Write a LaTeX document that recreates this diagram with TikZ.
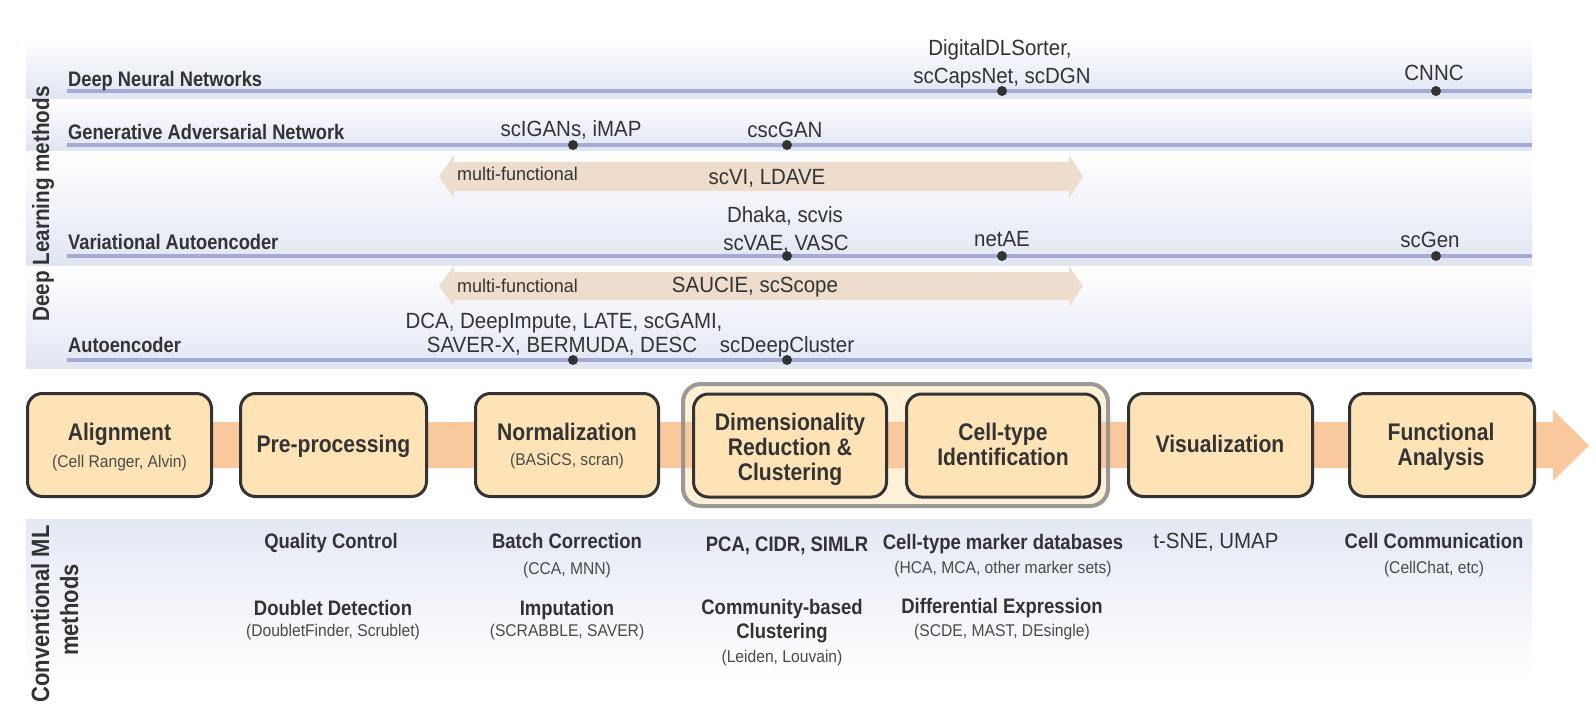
\documentclass[tikz,border=0pt]{standalone}
\usepackage{fontspec}
\setmainfont{Liberation Sans}
\newfontfamily\bcond[FakeStretch=0.88]{Liberation Sans}
\newfontfamily\rowcond[FakeStretch=0.87]{Liberation Sans}
\newfontfamily\rcond[FakeStretch=0.93]{Liberation Sans}
\newfontfamily\mcond[FakeStretch=0.97]{Liberation Sans}
\newfontfamily\scond[FakeStretch=0.92]{Liberation Sans}
\definecolor{txt}{HTML}{333333}
\definecolor{subtxt}{HTML}{4A4A4A}
\definecolor{bandblue}{HTML}{E3E8F4}
\definecolor{stripblue}{HTML}{E1E6F3}
\definecolor{rowline}{HTML}{A6AAD6}
\definecolor{beige}{HTML}{EEDDCC}
\definecolor{peach}{HTML}{F9C89C}
\definecolor{boxfill}{HTML}{FEE3B7}
\definecolor{groupfill}{HTML}{FFF0D8}
\definecolor{groupline}{HTML}{8A8A8A}
\definecolor{boxline}{HTML}{333333}
\begin{document}
\begin{tikzpicture}[x=1pt,y=-1pt,
  rowlab/.style={font=\rowcond\bfseries\fontsize{21}{24}\selectfont, anchor=base west, text=txt, inner sep=0pt},
  meth/.style={font=\rcond\fontsize{22}{24}\selectfont, anchor=base, text=txt, inner sep=0pt},
  mfun/.style={font=\mcond\fontsize{18.5}{22}\selectfont, anchor=base west, text=txt, inner sep=0pt},
  dot/.style={circle, fill=txt, minimum size=10pt, inner sep=0pt},
  stage/.style={draw=boxline, line width=3pt, fill=boxfill, rounded corners=15pt, minimum height=103pt, inner sep=0pt},
  stt/.style={font=\bcond\bfseries\fontsize{24}{25}\selectfont, anchor=base, text=txt, inner sep=0pt},
  subt/.style={font=\scond\fontsize{17}{20}\selectfont, anchor=base, text=subtxt, inner sep=0pt},
  blab/.style={font=\bcond\bfseries\fontsize{21}{24}\selectfont, anchor=base, text=txt, inner sep=0pt},
  vlab/.style={font=\bcond\bfseries\fontsize{23.5}{26}\selectfont, anchor=base, text=txt, inner sep=0pt, rotate=90},
  vlabc/.style={vlab, font=\bcond\bfseries\fontsize{25}{28}\selectfont},
  rline/.style={draw=rowline, line width=3.5pt}
]
\useasboundingbox (0,0) rectangle (1596,704);

% ---------- top band ----------
\shade[top color=white, bottom color=bandblue] (26,37) rectangle (1532,91);
\fill[stripblue] (26,91) rectangle (1532,99);
\shade[top color=white, bottom color=bandblue] (26,99) rectangle (1532,145);
\fill[stripblue] (26,145) rectangle (1532,151);
\shade[top color=white, bottom color=bandblue] (26,151) rectangle (1532,256);
\fill[stripblue] (26,256) rectangle (1532,266);
\shade[top color=white, bottom color=bandblue] (26,266) rectangle (1532,360);
\fill[stripblue] (26,360) rectangle (1532,369);

\coordinate (l1a) at (67,91);  \coordinate (l1b) at (1532,91);
\coordinate (l2a) at (67,145); \coordinate (l2b) at (1532,145);
\coordinate (l3a) at (67,256); \coordinate (l3b) at (1532,256);
\coordinate (l4a) at (67,360); \coordinate (l4b) at (1532,360);
\draw[rline] (l1a) -- (l1b);
\draw[rline] (l2a) -- (l2b);
\draw[rline] (l3a) -- (l3b);
\draw[rline] (l4a) -- (l4b);

% multi-functional arrows
\fill[beige] (439,176.5) -- (454,155) -- (454,162) -- (1069,162) -- (1069,155) -- (1083,176.5)
  -- (1069,198) -- (1069,191) -- (454,191) -- (454,198) -- cycle;
\fill[beige] (439,286) -- (454,266) -- (454,272) -- (1069,272) -- (1069,266) -- (1083,286)
  -- (1069,307) -- (1069,300) -- (454,300) -- (454,307) -- cycle;

\node[rowlab] (dnn) at (68,86) {Deep Neural Networks};
\node[rowlab] (gan) at (68,139) {Generative Adversarial Network};
\node[rowlab] (vae) at (68,249) {Variational Autoencoder};
\node[rowlab] (ae) at (68,352) {Autoencoder};
\node[vlab] (dlm) at (49,204) {Deep Learning methods};

% dots
\node[dot] (p1) at (1002,91) {};
\node[dot] (p2) at (1436,91) {};
\node[dot] (p3) at (573,145) {};
\node[dot] (p4) at (787,145) {};
\node[dot] (p5) at (787,256) {};
\node[dot] (p6) at (1002,256) {};
\node[dot] (p7) at (1436,256) {};
\node[dot] (p8) at (573,360) {};
\node[dot] (p9) at (787,360) {};

% method names
\node[meth] (m1a) at (1000,55) {DigitalDLSorter,};
\node[meth] (m1b) at (1002,83) {scCapsNet, scDGN};
\node[meth] (m2) at (1434,80) {CNNC};
\node[meth] (m3) at (571,136) {scIGANs, iMAP};
\node[meth] (m4) at (785,137) {cscGAN};
\node[mfun] (mf1) at (457,180) {multi-functional};
\node[meth] (m5) at (767,184) {scVI, LDAVE};
\node[meth] (m6a) at (785,222) {Dhaka, scvis};
\node[meth] (m6b) at (786,250) {scVAE, VASC};
\node[meth] (m7) at (1002,246) {netAE};
\node[meth] (m8) at (1430,247) {scGen};
\node[mfun] (mf2) at (457,292) {multi-functional};
\node[meth] (m9) at (755,292) {SAUCIE, scScope};
\node[meth] (m10a) at (564,328) {DCA, DeepImpute, LATE, scGAMI,};
\node[meth] (m10b) at (562,352) {SAVER-X, BERMUDA, DESC};
\node[meth] (m11) at (787,352) {scDeepCluster};

% ---------- bottom band ----------
\shade[top color=bandblue, bottom color=white] (26,519) rectangle (1532,680);

% ---------- pipeline ----------
\fill[groupfill] [rounded corners=18pt] (681,382) rectangle (1110,508);
\fill[peach] (150,422) -- (1553,422) -- (1553,410) -- (1589,445.5) -- (1553,481) -- (1553,468) -- (150,468) -- cycle;
\node[draw=groupline, draw opacity=0.85, line width=4pt, rounded corners=18pt, minimum width=425pt, minimum height=122pt, inner sep=0pt] (grp) at (895.5,445) {};

\node[stage, minimum width=184pt] (align) at (119.5,445) {};
\node[stage, minimum width=186pt] (pre) at (333.5,445) {};
\node[stage, minimum width=183pt] (norm) at (567,445) {};
\node[stage, minimum width=193pt] (dimred) at (790,445.5) {};
\node[stage, minimum width=193pt] (ctype) at (1003,445.5) {};
\node[stage, minimum width=184pt] (vis) at (1220.5,445) {};
\node[stage, minimum width=185pt] (func) at (1442,445) {};

\node[stt] (alignT) at (119.5,440) {Alignment};
\node[subt] (alignS) at (119.5,467) {(Cell Ranger, Alvin)};
\node[stt] (preT) at (333.5,452) {Pre-processing};
\node[stt] (normT) at (567,440) {Normalization};
\node[subt] (normS) at (567,465) {(BASiCS, scran)};
\node[stt] (dimT1) at (790,430) {Dimensionality};
\node[stt] (dimT2) at (790,455) {Reduction \&};
\node[stt] (dimT3) at (790,480) {Clustering};
\node[stt] (ctT1) at (1003,440) {Cell-type};
\node[stt] (ctT2) at (1003,465) {Identification};
\node[stt] (visT) at (1220,452) {Visualization};
\node[stt] (funT1) at (1441,440) {Functional};
\node[stt] (funT2) at (1441,465) {Analysis};

% ---------- conventional ML ----------
\node[vlabc] (cml1) at (49,614) {Conventional ML};
\node[vlabc] (cml2) at (78,610) {methods};

\node[blab] (qc) at (331,548) {Quality Control};
\node[blab] (dd) at (333,615) {Doublet Detection};
\node[subt] (ddS) at (333,636) {(DoubletFinder, Scrublet)};
\node[blab] (bc) at (567,548) {Batch Correction};
\node[subt] (bcS) at (567,574) {(CCA, MNN)};
\node[blab] (imp) at (567,615) {Imputation};
\node[subt] (impS) at (567,636) {(SCRABBLE, SAVER)};
\node[blab] (pca) at (787,551) {PCA, CIDR, SIMLR};
\node[blab] (cbc1) at (782,614) {Community-based};
\node[blab] (cbc2) at (782,638) {Clustering};
\node[subt] (cbcS) at (782,662) {(Leiden, Louvain)};
\node[blab] (ctm) at (1003,549) {Cell-type marker databases};
\node[subt] (ctmS) at (1003,573) {(HCA, MCA, other marker sets)};
\node[blab] (de) at (1002,613) {Differential Expression};
\node[subt] (deS) at (1002,636) {(SCDE, MAST, DEsingle)};
\node[meth] (tsne) at (1216,548) {t-SNE, UMAP};
\node[blab] (cc) at (1434,548) {Cell Communication};
\node[subt] (ccS) at (1434,573) {(CellChat, etc)};
\end{tikzpicture}
\end{document}
